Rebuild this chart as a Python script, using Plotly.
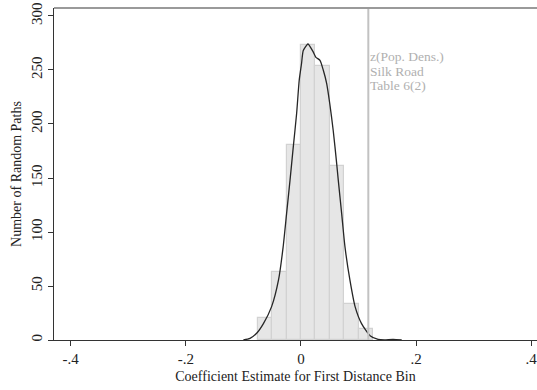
import plotly.graph_objects as go

# Histogram bins (left edges, width 0.025) and counts
bin_left = [-0.075, -0.05, -0.025, 0.0, 0.025, 0.05, 0.075, 0.1]
bin_width = 0.025
counts = [20, 63, 181, 273, 254, 161, 33, 10]

# Kernel density curve (scaled to counts)
kde_x = [-0.100, -0.0885, -0.077, -0.065, -0.051, -0.039, -0.031, -0.025, -0.019,
         -0.0133, -0.0075, -0.003, 0.001, 0.004, 0.0115, 0.0127, 0.021, 0.026, 0.033,
         0.0387, 0.0446, 0.050, 0.056, 0.062, 0.0648, 0.0707, 0.0764, 0.085, 0.094,
         0.105, 0.120, 0.134, 0.145, 0.160, 0.175]
kde_y = [0.0, 1.5, 6.2, 15.4, 30.9, 55.6, 86.0, 117.0, 148.0,
         179.0, 210.0, 240.7, 256.0, 268.0, 274.0, 274.0, 267.0, 261.7, 259.0,
         250.0, 237.7, 219.0, 194.0, 163.6, 148.0, 117.0, 86.4, 55.6, 30.9,
         15.4, 4.0, 0.6, 0.2, 0.6, 0.0]

ref_x = 0.117
ref_label = ["z(Pop. Dens.)", "Silk Road", "Table 6(2)"]

x_ticks = [-0.4, -0.2, 0, 0.2, 0.4]
x_tick_text = ["-.4", "-.2", "0", ".2", ".4"]
y_ticks = [0, 50, 100, 150, 200, 250, 300]

SERIF = "Liberation Serif, Times New Roman, Times, serif"

centers = [b + bin_width / 2 for b in bin_left]

fig = go.Figure()
fig.add_trace(go.Bar(
    x=centers, y=counts, width=bin_width,
    marker=dict(color="#e6e6e6", line=dict(color="#d2d2d2", width=1.2)),
    showlegend=False, hoverinfo="skip"))
fig.add_trace(go.Scatter(
    x=kde_x, y=kde_y, mode="lines", line=dict(color="#262626", width=1.3, shape="spline", smoothing=0.6),
    showlegend=False, hoverinfo="skip"))

fig.add_shape(type="line", xref="x", yref="paper", x0=ref_x, x1=ref_x, y0=0, y1=1,
              line=dict(color="#c2c2c2", width=2))
fig.add_shape(type="line", xref="paper", yref="paper", x0=0, x1=1, y0=1, y1=1,
              line=dict(color="#9a9a9a", width=2))

for i, line in enumerate(ref_label):
    fig.add_annotation(x=ref_x, y=1, xref="x", yref="paper", xanchor="left", yanchor="middle",
                       xshift=1, yshift=-48.5 - 14.5 * i, align="left", showarrow=False,
                       text=line, borderpad=0,
                       font=dict(family=SERIF, size=13.5, color="#b0b0b0"))

fig.update_layout(
    width=537, height=390,
    margin=dict(l=54, r=0, t=8, b=50),
    paper_bgcolor="white", plot_bgcolor="white",
    font=dict(family=SERIF, size=14, color="#222"),
    bargap=0,
    xaxis=dict(range=[-0.429, 0.41], tickvals=x_ticks, ticktext=x_tick_text,
               showgrid=False, zeroline=False, showline=True, linecolor="#333", linewidth=1,
               ticks="outside", ticklen=5, tickcolor="#333", ticklabeloverflow="allow",
               title=dict(text="Coefficient Estimate for First Distance Bin", standoff=5,
                          font=dict(family=SERIF, size=14)),
               tickfont=dict(family=SERIF, size=15)),
    yaxis=dict(range=[0, 307.4], tickvals=y_ticks,
               showgrid=False, zeroline=False, showline=True, linecolor="#333", linewidth=1,
               ticks="outside", ticklen=5, tickcolor="#333", tickangle=-90,
               ticklabeloverflow="allow",
               title=dict(text="Number of Random Paths", standoff=4,
                          font=dict(family=SERIF, size=14)),
               tickfont=dict(family=SERIF, size=15)),
)

fig.write_html("out.html")
